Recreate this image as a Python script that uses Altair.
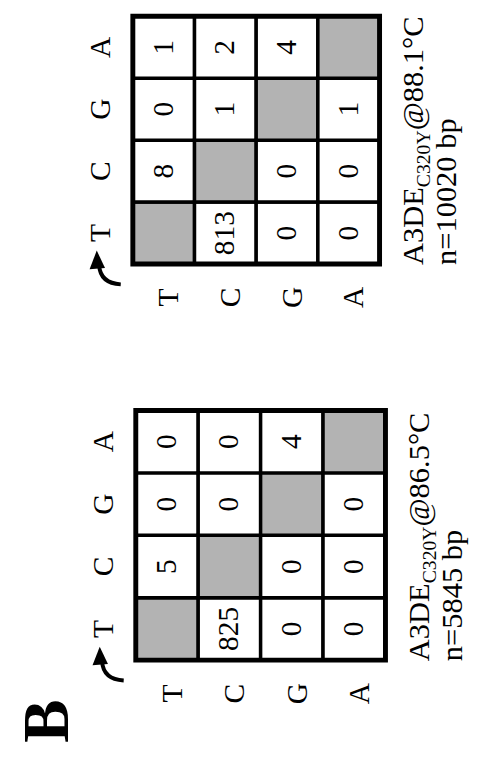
import altair as alt
import pandas as pd

FONT = "Liberation Serif"
GRAY = "#b3b3b3"

# nucleotides: original rows (from) and columns (to)
NTS = ["T", "C", "G", "A"]

# counts[from][to]; None marks the grey diagonal cell
counts_865 = [[None, 5, 0, 0],
              [825, None, 0, 0],
              [0, 0, None, 4],
              [0, 0, 0, None]]
counts_881 = [[None, 8, 0, 1],
              [813, None, 1, 2],
              [0, 0, None, 4],
              [0, 0, 1, None]]

cap_865 = ["A3DE", "C320Y", "@86.5°C"]
cap_881 = ["A3DE", "C320Y", "@88.1°C"]
n_865 = "n=5845 bp"
n_881 = "n=10020 bp"
panel_letter = "B"

ARROW_HEAD = "M -0.435 -0.86 L -0.8 0.09 L -0.015 0.025 Z"
ARROW_SHAFT = "M -0.315 -0.1 Q -0.25 0.8 0.785 0.86"

dummy = pd.DataFrame({"k": [0]})


def panel(counts, caption, ntext, xr, yr):
    rows = []
    for i, f in enumerate(NTS):
        for j, t in enumerate(NTS):
            v = counts[i][j]
            rows.append({"frm": f, "to": t,
                         "val": "" if v is None else str(v),
                         "kind": "same" if v is None else "diff"})
    cells = pd.DataFrame(rows)
    xs = alt.Scale(domain=NTS, range=xr, paddingInner=0, paddingOuter=0)
    ys = alt.Scale(domain=NTS[::-1], range=yr, paddingInner=0, paddingOuter=0)
    X = alt.X("frm:N", scale=xs, axis=None)
    Y = alt.Y("to:N", scale=ys, axis=None)

    rect = alt.Chart(cells).mark_rect(stroke="black", strokeWidth=3.5).encode(
        x=X, y=Y,
        fill=alt.Fill("kind:N", scale=alt.Scale(domain=["same", "diff"], range=[GRAY, "white"]), legend=None),
    )
    frame = alt.Chart(dummy).mark_rect(fillOpacity=0, stroke="black", strokeWidth=5).encode(
        x=alt.value(xr[0]), x2=alt.value(xr[1]), y=alt.value(yr[0]), y2=alt.value(yr[1])
    )
    nums = alt.Chart(cells).mark_text(angle=270, align="center", baseline="middle",
                                      font=FONT, fontSize=30, color="black").encode(
        x=X, y=Y, text="val:N")
    lab_b = alt.Chart(pd.DataFrame({"frm": NTS})).mark_text(
        angle=270, align="center", baseline="middle", font=FONT, fontSize=30, dy=6, color="black"
    ).encode(x=X, y=alt.value(yr[1] + 34), text="frm:N")
    lab_l = alt.Chart(pd.DataFrame({"to": NTS})).mark_text(
        angle=270, align="center", baseline="middle", font=FONT, fontSize=30, color="black"
    ).encode(y=Y, x=alt.value(xr[0] - 32), text="to:N")

    fs_main, fs_sub = 31, 20
    w_main = 2.555 * fs_main
    w_sub = 2.889 * fs_sub
    cx = xr[1] + 44.5
    cy = yr[1] + 1
    cap1 = alt.Chart(dummy).mark_text(angle=270, align="left", baseline="alphabetic",
                                      font=FONT, fontSize=fs_main, color="black").encode(
        x=alt.value(cx), y=alt.value(cy), text=alt.value(caption[0]))
    cap2 = alt.Chart(dummy).mark_text(angle=270, align="left", baseline="alphabetic",
                                      font=FONT, fontSize=fs_sub, dx=w_main, dy=7, color="black").encode(
        x=alt.value(cx), y=alt.value(cy), text=alt.value(caption[1]))
    cap3 = alt.Chart(dummy).mark_text(angle=270, align="left", baseline="alphabetic",
                                      font=FONT, fontSize=fs_main, dx=w_main + w_sub, color="black").encode(
        x=alt.value(cx), y=alt.value(cy), text=alt.value(caption[2]))
    capn = alt.Chart(dummy).mark_text(angle=270, align="left", baseline="alphabetic",
                                      font=FONT, fontSize=fs_main, color="black").encode(
        x=alt.value(xr[1] + 78), y=alt.value(cy), text=alt.value(ntext))

    ax, ay = xr[0] - 28, yr[1] + 3.5
    head = alt.Chart(dummy).mark_point(shape=ARROW_HEAD, size=1600, filled=True, color="black",
                                       strokeWidth=0, opacity=1).encode(x=alt.value(ax), y=alt.value(ay))
    shaft = alt.Chart(dummy).mark_point(shape=ARROW_SHAFT, size=1600, filled=False, color="black",
                                        strokeWidth=4, opacity=1).encode(x=alt.value(ax), y=alt.value(ay))
    return alt.layer(rect, frame, nums, lab_b, lab_l, cap1, cap2, cap3, capn, shaft, head)


top = panel(counts_881, cap_881, n_881, [127, 378], [2, 254])
bottom = panel(counts_865, cap_865, n_865, [130, 384], [403, 657])

letter = alt.Chart(dummy).mark_text(angle=270, align="left", baseline="alphabetic",
                                    font=FONT, fontSize=66, fontWeight="bold", color="black").encode(
    x=alt.value(61), y=alt.value(741), text=alt.value(panel_letter))

chart = alt.layer(top, bottom, letter).resolve_scale(
    x="independent", y="independent"
).properties(
    width=470, height=745, padding=0,
    autosize=alt.AutoSizeParams(type="none"),
).configure_view(stroke=None)

chart.save("out.html", embed_options={"renderer": "svg", "actions": False})
